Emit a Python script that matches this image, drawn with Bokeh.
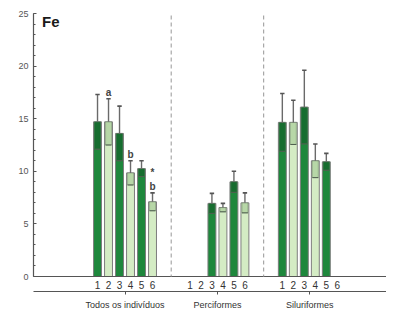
from bokeh.plotting import figure
from bokeh.models import Range1d, LinearAxis, FixedTicker, Label, Arrow, ColumnDataSource
from bokeh.core.properties import value
from bokeh.embed import file_html
from bokeh.resources import INLINE
import math

# ---- data -------------------------------------------------------------
groups = ["Todos os indivíduos", "Perciformes", "Siluriformes"]
sub_labels = ["1", "2", "3", "4", "5", "6"]

todos_mean = [14.7, 14.7, 13.6, 9.85, 10.25, 7.1]
todos_sd = [2.6, 2.2, 2.6, 1.15, 0.75, 0.85]
perc_mean = [float("nan"), float("nan"), 6.95, 6.55, 9.0, 7.0]
perc_sd = [float("nan"), float("nan"), 0.95, 0.4, 1.0, 0.95]
silu_mean = [14.65, 14.65, 16.1, 11.0, 10.9, float("nan")]
silu_sd = [2.75, 2.1, 3.5, 1.6, 0.8, float("nan")]

todos_letters = ["", "a", "", "b", "", "b"]
todos_star = ["", "", "", "", "", "*"]

y_ticks = [0, 5, 10, 15, 20, 25]
element = "Fe"

# ---- layout helpers ----------------------------------------------------
GROUP_STEP = 8.4
BAR_W = 0.72
means_all = [todos_mean, perc_mean, silu_mean]
sds_all = [todos_sd, perc_sd, silu_sd]

DARK = "#1e873c"
DARK_BAND = "#15692d"
LIGHT = "#d4ecc4"
LIGHT_BAND = "#b2d4a2"

bx, bm, bs, bfill, bband = [], [], [], [], []
tick_pos, tick_lab = [], {}
for g, (ms, ss) in enumerate(zip(means_all, sds_all)):
    for i in range(6):
        x = round(g * GROUP_STEP + i, 2)
        tick_pos.append(x)
        tick_lab[x] = sub_labels[i]
        if not math.isnan(ms[i]):
            bx.append(x)
            bm.append(ms[i])
            bs.append(ss[i])
            bfill.append(DARK if i % 2 == 0 else LIGHT)
            bband.append(DARK_BAND if i % 2 == 0 else LIGHT_BAND)

src = ColumnDataSource(dict(
    x=bx, top=bm, sd=bs, fill=bfill, band=bband,
    left=[x - BAR_W / 2 for x in bx], right=[x + BAR_W / 2 for x in bx],
    bl=[x - 0.27 for x in bx], br=[x + 0.27 for x in bx],
    lo=[m - s for m, s in zip(bm, bs)], hi=[m + s for m, s in zip(bm, bs)],
    cl=[x - 0.2 for x in bx], cr=[x + 0.2 for x in bx],
))

p = figure(width=386, height=312, output_backend="svg", toolbar_location=None,
           x_range=Range1d(-5.82, 26.27), y_range=Range1d(0, 25),
           min_border_left=33, min_border_right=0, min_border_top=13,
           min_border_bottom=35)
p.outline_line_color = None
p.grid.grid_line_color = None
p.background_fill_color = "white"
p.border_fill_color = "white"

FONT = "Liberation Sans"

# bars
p.quad(left="left", right="right", bottom=0, top="top", fill_color="fill",
       line_color="#7d7d7d", line_width=1, source=src)
# inner sd band
p.quad(left="bl", right="br", bottom="lo", top="top", fill_color="band",
       fill_alpha=0.85, line_color="#5a6f5a", line_alpha=0.5, line_width=0.8, source=src)
p.segment(x0="bl", x1="br", y0="lo", y1="lo", line_color="#4f5f4f", line_width=1, source=src)
# whiskers
p.segment(x0="x", x1="x", y0="top", y1="hi", line_color="#6a6a6a", line_width=1.4, source=src)
p.segment(x0="cl", x1="cr", y0="hi", y1="hi", line_color="#555555", line_width=1.6, source=src)

# significance letters (group 1)
lx = [round(i, 2) for i in range(6)]
lsrc = ColumnDataSource(dict(
    x=lx, y=[m + s for m, s in zip(todos_mean, todos_sd)],
    t=todos_letters, star=todos_star))
p.text(x="x", y="y", text="t", source=lsrc, text_align="center",
       text_baseline="bottom", y_offset=-1, text_font=value(FONT),
       text_font_style="bold", text_font_size="10px", text_color="#444444")
p.text(x="x", y="y", text="star", source=lsrc, text_align="center",
       text_baseline="bottom", y_offset=-15, text_font=value(FONT),
       text_font_style="bold", text_font_size="10px", text_color="#444444")

# dashed separators between groups
for g in range(1, 3):
    xs = (g - 1) * GROUP_STEP + 5 + (GROUP_STEP - 5) / 2
    p.add_layout(Arrow(end=None, x_start=xs, x_end=xs, y_start=24.8, y_end=-3.6,
                       line_color="#a8a8a8", line_width=1.2, line_dash="4 3"))

# element label
p.add_layout(Label(x=-5.05, y=24.2, text=element, text_baseline="middle",
                   text_font=FONT, text_font_style="bold",
                   text_font_size="15px", text_color="#1a1a1a"))

# y axis
ya = p.yaxis[0]
ya.ticker = FixedTicker(ticks=y_ticks, minor_ticks=list(range(0, 26)))
ya.axis_line_color = "#555555"
ya.axis_line_width = 1.2
ya.major_tick_in = 3
ya.major_tick_out = 0
ya.minor_tick_in = 2
ya.minor_tick_out = 0
ya.major_tick_line_color = "#555555"
ya.minor_tick_line_color = "#555555"
ya.major_label_standoff = 5
ya.major_label_text_font = FONT
ya.major_label_text_font_size = "9px"
ya.major_label_text_color = "#555555"

# first x axis: bar numbers
xa = p.xaxis[0]
xa.ticker = FixedTicker(ticks=tick_pos, minor_ticks=[])
xa.major_label_overrides = tick_lab
xa.axis_line_color = "#555555"
xa.axis_line_width = 1.2
xa.major_tick_line_color = None
xa.major_tick_in = 0
xa.major_tick_out = 2
xa.major_label_standoff = 2
xa.major_label_text_font = FONT
xa.major_label_text_font_size = "10px"
xa.major_label_text_color = "#333333"

# second x axis: group names
centers = [round(g * GROUP_STEP + 2.5, 2) for g in range(3)]
xa2 = LinearAxis(ticker=FixedTicker(ticks=centers, minor_ticks=[]),
                 major_label_overrides={c: n for c, n in zip(centers, groups)})
xa2.axis_line_color = "#555555"
xa2.axis_line_width = 1.2
xa2.major_tick_line_color = "#555555"
xa2.major_tick_in = 0
xa2.major_tick_out = 3
xa2.major_label_standoff = 5
xa2.major_label_text_font = FONT
xa2.major_label_text_font_size = "9px"
xa2.major_label_text_color = "#333333"
p.add_layout(xa2, "below")

open("out.html", "w").write(file_html(p, INLINE))
